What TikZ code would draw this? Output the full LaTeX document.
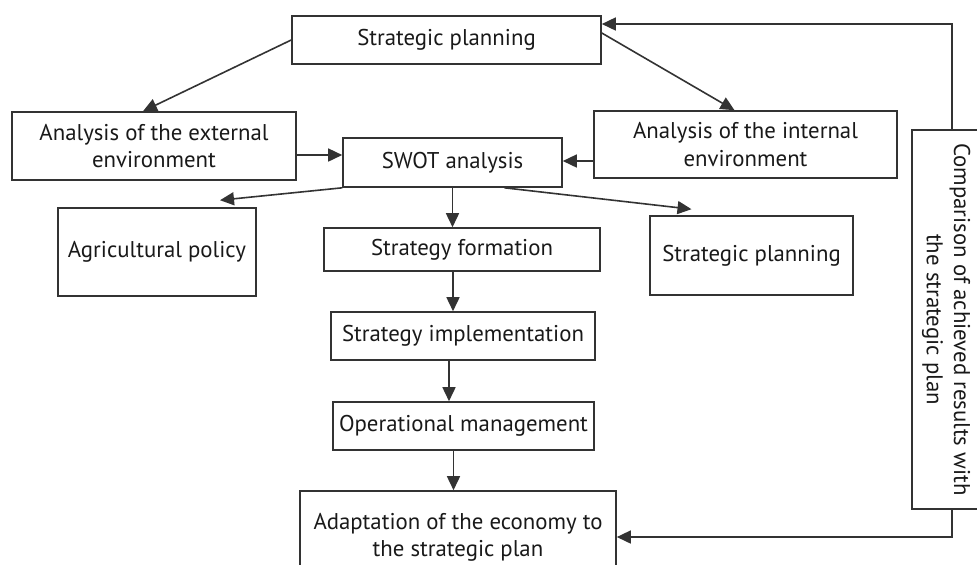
\documentclass[tikz,border=0pt]{standalone}
\usepackage{fontspec}
\setmainfont{PT Sans}
\usetikzlibrary{arrows.meta,calc}

\begin{document}
\begin{tikzpicture}[x=0.5pt, y=-0.5pt, line width=0.8pt, color=black!80,
            >={Triangle[length=7pt,width=6.5pt]},
            block/.style={draw, inner sep=0pt, align=center, text=black!90,
                font=\fontsize{11.4}{13.6}\selectfont}]
            \clip (0,0) rectangle (977,564);
            % boxes
            \node[block, minimum width=154.5pt, minimum height=24pt] (top) at (446.5,40) {Strategic planning};
            \node[block, minimum width=142pt, minimum height=34pt] (ext) at (154,146) {Analysis of the external\\environment};
            \node[block, minimum width=151.5pt, minimum height=33.5pt] (int) at (745.5,144.5) {Analysis of the internal\\environment};
            \node[block, minimum width=109.5pt, minimum height=24.5pt] (swot) at (452.5,162.5) {SWOT analysis};
            \node[block, minimum width=99pt, minimum height=44pt] (agri) at (157,252) {Agricultural policy};
            \node[block, minimum width=138pt, minimum height=21.5pt] (sf) at (462,249.5) {Strategy formation};
            \node[block, minimum width=101.5pt, minimum height=39.5pt] (splan) at (751.5,255.5) {Strategic planning};
            \node[block, minimum width=132pt, minimum height=24pt] (si) at (463,336) {Strategy implementation};
            \node[block, minimum width=130.5pt, minimum height=24pt] (om) at (463.5,426) {Operational management};
            \node[block, minimum width=158pt, minimum height=46pt] (adapt) at (458,537) {Adaptation of the economy to\\the strategic plan};
            \node[block, minimum width=34pt, minimum height=189.5pt] (comp) at (946,319.5)
                {\rotatebox{-90}{\begin{tabular}{@{}c@{}}Comparison of achieved results with\\the strategic plan\end{tabular}}};
            % arrows
            \draw[->] (top.west) -- ($(ext.north)+(-11,0)$);
            \draw[->] ($(top.east)+(0,-7)$) -- ($(int.north)+(-11,0)$);
            \draw[->] ($(comp.north)+(6,0)$) |- ($(top.east)+(0,-16)$);
            \draw[->] ($(ext.east)+(0,9)$) -- ($(swot.west |- ext.east)+(0,9)$);
            \draw[->] ($(int.west)+(0,16.5)$) -- ($(swot.east |- int.west)+(0,16.5)$);
            \draw[->] (swot.south west) -- ($(agri.north)+(63,-7)$);
            \draw[->] (swot.south) -- (swot.south |- sf.north);
            \draw[->] ($(swot.south)+(52,0)$) -- ($(splan.north)+(-60,-6)$);
            \draw[->] ($(sf.south)+(-9,0)$) -- ($(sf.south |- si.north)+(-9,0)$);
            \draw[->] ($(si.south)+(-14,0)$) -- ($(si.south |- om.north)+(-14,0)$);
            \draw[->] ($(om.south)+(-10,0)$) -- ($(om.south |- adapt.north)+(-10,0)$);
            \draw[->] ($(comp.south)+(6,0)$) |- (adapt.east);
        \end{tikzpicture}
\end{document}
